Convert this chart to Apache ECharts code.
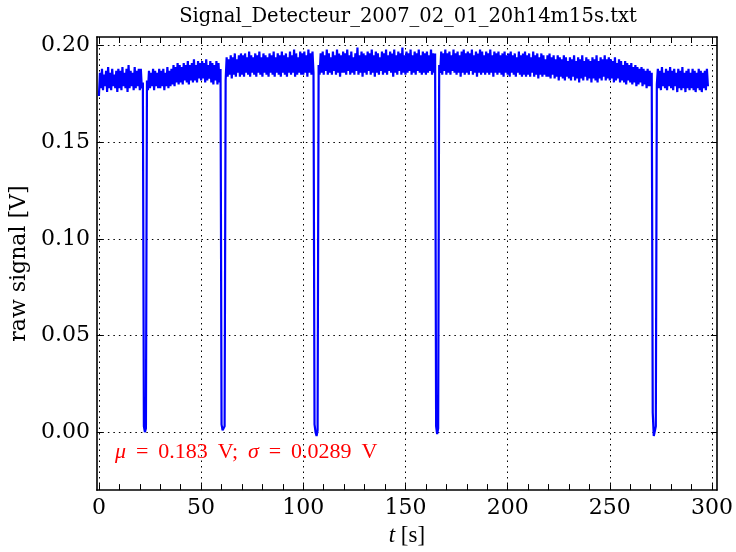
<!DOCTYPE html>
<html>
<head>
<meta charset="utf-8">
<script src="https://cdn.jsdelivr.net/npm/echarts@6/dist/echarts.min.js"></script>
<style>
html,body{margin:0;padding:0;background:#fff;}
#chart{width:736px;height:552px;}
</style>
</head>
<body>
<div id="chart"></div>
<script>
// ---- data ----
const chartTitle = 'Signal_Detecteur_2007_02_01_20h14m15s.txt';
const statsText = '{i|\u03bc} \u2009= \u20090.183 \u2009V; \u2009{i|\u03c3} \u2009= \u20090.0289 \u2009V';
const xMajorTicks = [0, 50, 100, 150, 200, 250, 300];
const xMinorTicks = [0,10,20,30,40,50,60,70,80,90,100,110,120,130,140,150,160,170,180,190,200,210,220,230,240,250,260,270,280,290,300];
const yTicks = [0, 0.05, 0.10, 0.15, 0.20];
const sampleStart = 0;     // s
const sampleStep = 0.5;    // s
// raw signal [V], one value every 0.5 s from t = 0 s
const signal = [
0.174,0.186,0.178,0.188,0.177,0.185,0.179,0.187,0.176,0.189,0.178,0.186,0.177,0.188,0.179,0.185,0.178,0.187,0.176,0.188,
0.178,0.187,0.177,0.189,0.179,0.186,0.178,0.188,0.176,0.190,0.178,0.187,0.179,0.186,0.177,0.189,0.178,0.187,0.179,0.188,
0.177,0.188,0.178,0.181,0.003,0.000,0.002,0.182,0.177,0.187,0.178,0.186,0.179,0.188,0.177,0.187,0.179,0.186,0.178,0.188,
0.178,0.187,0.179,0.188,0.177,0.186,0.179,0.189,0.178,0.187,0.179,0.188,0.180,0.190,0.179,0.189,0.181,0.191,0.180,0.190,
0.181,0.189,0.180,0.191,0.182,0.190,0.181,0.192,0.180,0.190,0.182,0.191,0.181,0.193,0.182,0.190,0.181,0.192,0.183,0.191,
0.182,0.192,0.183,0.191,0.181,0.193,0.182,0.190,0.183,0.192,0.181,0.191,0.180,0.190,0.182,0.192,0.180,0.191,0.181,0.188,
0.004,0.001,0.001,0.003,0.182,0.194,0.184,0.193,0.185,0.195,0.183,0.194,0.185,0.196,0.184,0.193,0.186,0.195,0.184,0.196,
0.185,0.195,0.184,0.196,0.186,0.194,0.185,0.197,0.184,0.195,0.186,0.194,0.185,0.196,0.184,0.195,0.186,0.197,0.185,0.194,
0.184,0.196,0.186,0.195,0.185,0.194,0.184,0.196,0.186,0.195,0.185,0.197,0.184,0.194,0.186,0.196,0.185,0.195,0.184,0.197,
0.186,0.195,0.185,0.196,0.184,0.194,0.186,0.197,0.185,0.195,0.186,0.198,0.184,0.196,0.185,0.194,0.186,0.197,0.185,0.196,
0.185,0.197,0.186,0.195,0.184,0.198,0.186,0.196,0.185,0.197,0.186,0.004,0.000,-0.002,0.001,0.190,0.185,0.196,0.186,0.197,
0.185,0.195,0.187,0.198,0.185,0.196,0.186,0.194,0.185,0.197,0.187,0.195,0.185,0.198,0.186,0.196,0.184,0.195,0.186,0.197,
0.186,0.196,0.185,0.198,0.187,0.195,0.185,0.197,0.186,0.194,0.185,0.196,0.187,0.199,0.185,0.195,0.186,0.197,0.184,0.196,
0.186,0.195,0.185,0.197,0.187,0.196,0.185,0.198,0.186,0.195,0.184,0.197,0.186,0.196,0.185,0.194,0.187,0.197,0.185,0.196,
0.186,0.198,0.185,0.195,0.187,0.197,0.186,0.196,0.184,0.198,0.186,0.195,0.185,0.197,0.187,0.196,0.185,0.199,0.186,0.195,
0.185,0.197,0.186,0.196,0.187,0.198,0.185,0.195,0.186,0.197,0.185,0.196,0.187,0.198,0.186,0.195,0.185,0.197,0.186,0.196,
0.185,0.197,0.186,0.195,0.187,0.198,0.185,0.196,0.186,0.196,0.003,-0.001,0.002,0.190,0.186,0.197,0.185,0.196,0.187,0.198,
0.185,0.196,0.186,0.197,0.185,0.195,0.187,0.198,0.186,0.196,0.185,0.197,0.186,0.195,0.184,0.197,0.186,0.198,0.185,0.196,
0.186,0.197,0.185,0.196,0.187,0.198,0.185,0.195,0.186,0.197,0.184,0.196,0.186,0.198,0.185,0.197,0.186,0.195,0.185,0.197,
0.186,0.196,0.185,0.198,0.186,0.195,0.184,0.197,0.186,0.196,0.185,0.197,0.186,0.195,0.185,0.196,0.184,0.197,0.186,0.195,
0.185,0.196,0.184,0.197,0.186,0.195,0.185,0.196,0.184,0.194,0.186,0.197,0.185,0.195,0.184,0.196,0.185,0.197,0.184,0.195,
0.185,0.196,0.184,0.194,0.186,0.197,0.184,0.195,0.185,0.196,0.183,0.194,0.185,0.196,0.184,0.195,0.185,0.193,0.184,0.195,
0.184,0.196,0.183,0.194,0.185,0.195,0.183,0.193,0.184,0.195,0.182,0.194,0.184,0.193,0.183,0.195,0.182,0.194,0.184,0.192,
0.183,0.194,0.182,0.193,0.184,0.195,0.182,0.192,0.183,0.194,0.181,0.193,0.183,0.195,0.182,0.192,0.184,0.194,0.182,0.193,
0.183,0.192,0.181,0.194,0.183,0.193,0.182,0.195,0.181,0.192,0.183,0.194,0.182,0.193,0.184,0.195,0.182,0.193,0.183,0.194,
0.182,0.193,0.183,0.192,0.181,0.194,0.182,0.191,0.183,0.193,0.181,0.192,0.182,0.190,0.181,0.192,0.180,0.191,0.182,0.190,
0.181,0.191,0.180,0.189,0.181,0.190,0.179,0.189,0.180,0.188,0.181,0.189,0.179,0.188,0.180,0.187,0.178,0.188,0.179,0.187,
0.179,0.186,0.010,-0.002,-0.003,0.003,0.180,0.188,0.178,0.187,0.177,0.189,0.179,0.186,0.178,0.188,0.177,0.187,0.179,0.189,
0.178,0.187,0.177,0.188,0.179,0.186,0.176,0.188,0.178,0.187,0.177,0.189,0.178,0.186,0.176,0.187,0.178,0.188,0.177,0.186,
0.178,0.188,0.177,0.187,0.176,0.186,0.178,0.188,0.177,0.187,0.176,0.186,0.178,0.187,0.177,0.188,0.179
];

// ---- chart ----
const X_MIN = -1, X_MAX = 302.4;
const Y_MIN = -0.03, Y_MAX = 0.2045;
const serif = "'DejaVu Serif', serif";
const mathSerif = "'Liberation Serif', serif";
const frameLine = { show: true, onZero: false, lineStyle: { color: '#000', width: 1.6 } };
const dotted = { show: true, lineStyle: { color: '#000', width: 1, type: [1.5, 4] } };

const seriesData = signal.map((v, i) => [sampleStart + i * sampleStep, v]);

const chart = echarts.init(document.getElementById('chart'), null, { renderer: 'canvas' });
chart.setOption({
  animation: false,
  backgroundColor: '#fff',
  grid: { left: 96, right: 18, top: 37, bottom: 59, containLabel: false },
  xAxis: [
    {
      type: 'value', position: 'bottom', min: X_MIN, max: X_MAX,
      axisLine: frameLine,
      axisTick: { show: true, inside: true, length: 6, customValues: xMinorTicks, lineStyle: { color: '#000', width: 1 } },
      axisLabel: { show: true, customValues: xMajorTicks, margin: 7, color: '#000', fontFamily: serif, fontSize: 22 },
      splitLine: { show: false },
      name: '{i|t} [s]', nameLocation: 'middle', nameGap: 32,
      nameTextStyle: { color: '#000', fontFamily: mathSerif, fontSize: 23,
        rich: { i: { fontStyle: 'italic', fontFamily: mathSerif, fontSize: 23, color: '#000' } } }
    },
    {
      type: 'value', position: 'top', min: X_MIN, max: X_MAX,
      axisLine: frameLine,
      axisTick: { show: true, inside: true, length: 6, customValues: xMinorTicks, lineStyle: { color: '#000', width: 1 } },
      axisLabel: { show: false },
      splitLine: { show: false }
    },
    {
      type: 'value', position: 'bottom', min: X_MIN, max: X_MAX,
      axisLine: { show: false, onZero: false },
      axisTick: { show: false, customValues: xMajorTicks },
      axisLabel: { show: false, customValues: xMajorTicks },
      splitLine: dotted
    }
  ],
  yAxis: [
    {
      type: 'value', position: 'left', min: Y_MIN, max: Y_MAX,
      axisLine: frameLine,
      axisTick: { show: true, inside: true, length: 6, customValues: yTicks, lineStyle: { color: '#000', width: 1 } },
      axisLabel: { show: true, customValues: yTicks, margin: 7, color: '#000', fontFamily: serif, fontSize: 22,
        formatter: v => v.toFixed(2) },
      splitLine: dotted,
      name: 'raw signal [V]', nameLocation: 'middle', nameGap: 57, nameRotate: 90,
      nameTextStyle: { color: '#000', fontFamily: serif, fontSize: 22 }
    },
    {
      type: 'value', position: 'right', min: Y_MIN, max: Y_MAX,
      axisLine: frameLine,
      axisTick: { show: true, inside: true, length: 6, customValues: yTicks, lineStyle: { color: '#000', width: 1 } },
      axisLabel: { show: false },
      splitLine: { show: false }
    }
  ],
  series: [
    {
      type: 'line', xAxisIndex: 0, yAxisIndex: 0,
      data: seriesData,
      showSymbol: false, symbol: 'none',
      sampling: null,
      lineStyle: { color: '#0000ff', width: 2.2 },
      itemStyle: { color: '#0000ff' },
      z: 3, silent: true
    }
  ],
  graphic: [
    {
      type: 'text', x: 408, y: 17, z: 10,
      style: { text: chartTitle, align: 'center', verticalAlign: 'middle',
        fontFamily: serif, fontSize: 19.5, fill: '#000' }
    },
    {
      type: 'text', x: 115, y: 452, z: 10,
      style: { text: statsText, align: 'left', verticalAlign: 'middle',
        fontFamily: mathSerif, fontSize: 22, fill: '#ff0000',
        rich: { i: { fontStyle: 'italic', fontFamily: mathSerif, fontSize: 22, fill: '#ff0000' } } }
    }
  ]
});
</script>
</body>
</html>
